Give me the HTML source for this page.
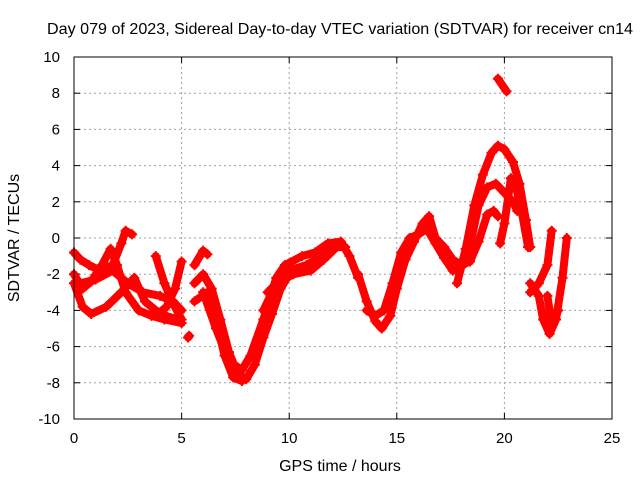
<!DOCTYPE html>
<html><head><meta charset="utf-8"><style>
body{margin:0;background:#fff}
svg{display:block;font-family:"Liberation Sans",sans-serif}
</style></head><body>
<svg id="chart" width="640" height="480" viewBox="0 0 640 480" xmlns="http://www.w3.org/2000/svg">
<text x="340" y="34" font-size="16" text-anchor="middle" textLength="586" lengthAdjust="spacingAndGlyphs">Day 079 of 2023, Sidereal Day-to-day VTEC variation (SDTVAR) for receiver cn14</text>
<text x="340" y="471" font-size="16" text-anchor="middle">GPS time / hours</text>
<text x="19" y="238" font-size="16" text-anchor="middle" transform="rotate(-90 19 238)">SDTVAR / TECUs</text>
<g id="grid"></g>
<g id="ticks"></g>
<g id="series"></g>
<rect x="74" y="57" width="538" height="362" fill="none" stroke="#000" stroke-width="1"/>
</svg>
<script>
const xTicks=[0,5,10,15,20,25];
const yTicks=[-10,-8,-6,-4,-2,0,2,4,6,8,10];
const track1=[[0,-0.8],[0.3,-1.2],[0.7,-1.5],[1.2,-1.8],[1.8,-1.5],[2.2,-0.3],[2.4,0.4],[2.7,0.2]];
const track2=[[0,-2],[0.4,-2.8],[0.8,-2.4],[1.3,-1.5],[1.7,-0.6],[2.0,-1.5],[2.4,-3],[3,-4],[3.6,-4.3],[4.2,-4.5],[5,-4.7]];
const track3=[[0,-2.5],[0.4,-3.8],[0.8,-4.2],[1.5,-3.8],[2.2,-3],[2.8,-2.2],[3.3,-3.5],[4,-4.2],[4.8,-4.5]];
const track4=[[0.3,-2.5],[1,-2.3],[1.8,-1.8],[2.5,-2.5],[3.2,-3],[4,-3.2],[4.6,-3.5],[5,-4]];
const track5=[[3.8,-1],[4.2,-2.5],[4.6,-3.6],[5,-4.5]];
const track6=[[3.8,-4.3],[4.3,-3.8],[4.7,-2.8],[5,-1.3]];
const track7=[[5.3,-5.5],[5.35,-5.4]];
const track8=[[5.6,-2.5],[6,-2],[6.4,-2.8],[6.8,-4.5],[7.2,-6.3],[7.6,-7.5],[8,-7.8],[8.4,-7],[8.8,-5.5],[9.2,-4.2],[9.6,-2.8],[10,-2]];
const track9=[[5.6,-1.5],[6,-0.7],[6.2,-0.9]];
const track10=[[5.6,-3.5],[6.2,-3],[6.6,-4.5],[7,-6.5],[7.4,-7.7],[7.8,-7.9]];
const track11=[[6,-3],[6.6,-5],[7.2,-6.8],[7.8,-7.3],[8.2,-6.5],[8.8,-4.5],[9.4,-2.2],[9.8,-1.5],[10.6,-1],[11.2,-0.8],[11.8,-0.3],[12.4,-0.2],[12.8,-1],[13.2,-2.2]];
const track12=[[8.8,-4],[9.4,-2.5],[10.2,-2],[11,-1.8],[11.6,-1.2],[12.2,-0.5],[12.6,-0.5]];
const track13=[[9,-3],[10,-1.8],[10.8,-1.5],[11.5,-1],[12,-0.4]];
const track14=[[13.2,-2],[13.6,-3.5],[14,-4.6],[14.3,-5],[14.7,-4.3],[15,-2.8],[15.4,-1.2],[15.8,-0.2],[16.2,0.8],[16.5,1.2],[16.8,0],[17.2,-0.5],[17.6,-1.2],[18,-1.5],[18.4,-1.3],[18.8,-0.2],[19.2,1.3],[19.5,1.5],[19.7,1.2]];
const track15=[[13.6,-4],[14,-4.3],[14.4,-4],[14.8,-2.5],[15.2,-0.8],[15.6,0],[16,0.2],[16.4,0.5],[16.8,-0.3],[17.2,-1.1],[17.6,-1.8],[18,-1.6],[18.4,-0.4],[18.8,1.8],[19.2,2.8],[19.6,3],[20,2.5],[20.4,2],[20.6,1.5]];
const track16=[[17.8,-2.5],[18.2,-0.6],[18.6,1.8],[19,3.5],[19.4,4.7],[19.7,5.1],[20,4.9],[20.4,4.2],[20.7,3],[21,1],[21.2,-0.5]];
const track17=[[19.8,-0.3],[20,0.8],[20.3,3.3],[20.5,3],[20.8,1.5],[21.1,-0.5]];
const track18=[[19.7,8.8],[20.1,8.1]];
const track19=[[21.2,-2.5],[21.6,-3.2],[21.8,-4.5],[22.1,-5.3],[22.4,-4.5],[22.7,-2.2],[22.9,0]];
const track20=[[21.2,-3],[21.6,-2.5],[22,-1.5],[22.2,0.4]];
const track21=[[22,-3.2],[22.2,-4.8],[22.5,-4]];
const tracks=[track1,track2,track3,track4,track5,track6,track7,track8,track9,track10,track11,track12,track13,track14,track15,track16,track17,track18,track19,track20,track21];

const NS='http://www.w3.org/2000/svg';
const X0=74,X1=612,Y0=419,Y1=57;
function xs(t){return X0+(t-0)/25*(X1-X0);}
function ys(v){return Y0-(v+10)/20*(Y0-Y1);}
function mk(tag,attrs,parent){const e=document.createElementNS(NS,tag);for(const k in attrs)e.setAttribute(k,attrs[k]);parent.appendChild(e);return e;}
const grid=document.getElementById('grid'),ticks=document.getElementById('ticks'),series=document.getElementById('series');
xTicks.forEach(t=>{
  const x=xs(t);
  if(t>0&&t<25){const g=mk('line',{x1:x,x2:x,y1:Y0,y2:Y1,stroke:'#a0a0a0','stroke-dasharray':'2,3'},grid);
  
  }
  mk('line',{x1:x,x2:x,y1:Y0,y2:Y0-6,stroke:'#000'},ticks);
  mk('line',{x1:x,x2:x,y1:Y1,y2:Y1+6,stroke:'#000'},ticks);
  const l=mk('text',{x:x,y:Y0+24,'font-size':15,'text-anchor':'middle'},ticks);
  l.textContent=t;
  
  
});
yTicks.forEach(v=>{
  const y=ys(v);
  if(v>-10&&v<10){const g=mk('line',{x1:X0,x2:X1,y1:y,y2:y,stroke:'#a0a0a0','stroke-dasharray':'2,3'},grid);
  
  }
  mk('line',{x1:X0,x2:X0+6,y1:y,y2:y,stroke:'#000'},ticks);
  mk('line',{x1:X1,x2:X1-6,y1:y,y2:y,stroke:'#000'},ticks);
  const l=mk('text',{x:X0-14,y:y+5,'font-size':15,'text-anchor':'end'},ticks);
  l.textContent=v;
  
  
});
tracks.forEach(tr=>{
  const pts=tr.map(p=>xs(p[0]).toFixed(1)+','+ys(p[1]).toFixed(1)).join(' ');
  const pl=mk('polyline',{points:pts,fill:'none',stroke:'#ff0000','stroke-width':8,'stroke-linejoin':'round','stroke-linecap':'round'},series);
  
  
  tr.forEach(p=>{
    const x=xs(p[0]),y=ys(p[1]);
    const m=mk('path',{d:`M${x-5},${y}H${x+5}M${x},${y-5}V${y+5}`,stroke:'#ff0000','stroke-width':2},series);
    
    
  });
});
</script>
</body></html>
